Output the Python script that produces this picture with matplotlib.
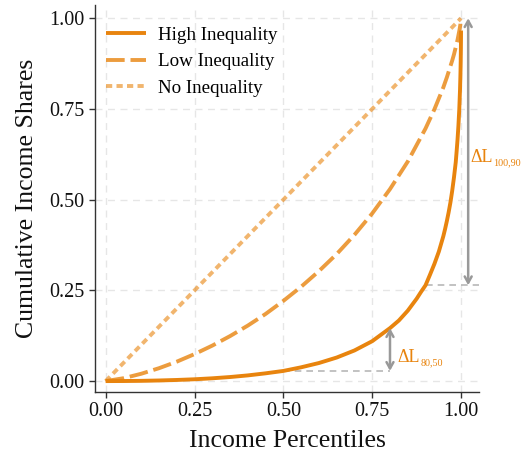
import matplotlib
matplotlib.use("Agg")
import matplotlib.pyplot as plt
from matplotlib.transforms import offset_copy

plt.rcParams["font.family"] = ["Liberation Serif", "DejaVu Serif"]

# Lorenz curves: income percentile -> cumulative income share
pct_high = [0.0, 0.05, 0.10, 0.15, 0.20, 0.25, 0.30, 0.35, 0.40, 0.45, 0.50,
            0.55, 0.60, 0.65, 0.70, 0.75, 0.80, 0.825, 0.85, 0.875, 0.8875,
            0.90, 0.9125, 0.925, 0.9375, 0.95, 0.955, 0.96, 0.965, 0.97,
            0.975, 0.98, 0.985, 0.9875, 0.99, 0.9925, 0.995, 0.997, 0.998,
            0.9985, 0.999, 0.9995, 0.9998, 0.9999]
share_high = [0.0, 0.0002, 0.0007, 0.0017, 0.0031, 0.0050, 0.0077, 0.0112,
              0.0157, 0.0214, 0.0280, 0.0380, 0.0498, 0.0649, 0.0844, 0.110,
              0.146, 0.167, 0.194, 0.227, 0.246, 0.264, 0.293, 0.323, 0.357,
              0.399, 0.419, 0.441, 0.465, 0.492, 0.524, 0.561, 0.603, 0.633,
              0.665, 0.703, 0.750, 0.802, 0.836, 0.857, 0.883, 0.918, 0.950,
              0.966]

pct_low = [0.0, 0.05, 0.10, 0.15, 0.20, 0.25, 0.30, 0.35, 0.40, 0.45, 0.50,
           0.55, 0.60, 0.65, 0.70, 0.75, 0.80, 0.85, 0.90, 0.925, 0.95,
           0.96, 0.975, 0.98, 0.99, 0.995, 0.9975, 0.999, 0.9999]
share_low = [0.0, 0.0079, 0.0202, 0.0355, 0.0535, 0.0744, 0.0978, 0.124,
             0.153, 0.185, 0.221, 0.260, 0.303, 0.350, 0.403, 0.462, 0.529,
             0.605, 0.696, 0.749, 0.809, 0.837, 0.883, 0.900, 0.940, 0.965,
             0.979, 0.990, 0.998]

pct_equal = [0.0, 1.0]
share_equal = [0.0, 1.0]

series_labels = ["High Inequality", "Low Inequality", "No Inequality"]

# Gap annotations (x position, lower share, upper share)
gap_80_50 = (0.80, 0.028, 0.146)
gap_100_90 = (1.02, 0.264, 1.00)

x_ticks = [0.0, 0.25, 0.5, 0.75, 1.0]
y_ticks = [0.0, 0.25, 0.5, 0.75, 1.0]
tick_labels = ["0.00", "0.25", "0.50", "0.75", "1.00"]

orange = "#E8840E"
grey = "#999999"

fig = plt.figure(figsize=(5.22, 4.53), dpi=100)
ax = fig.add_axes([0.182, 0.1347, 0.736, 0.854])

lw = 2.8
ax.plot(pct_high, share_high, color=orange, lw=lw, solid_capstyle="butt",
        solid_joinstyle="round", label=series_labels[0], zorder=4)
ax.plot(pct_low, share_low, color=orange, alpha=0.8, lw=lw,
        dashes=(4.8, 1.5), dash_capstyle="butt", label=series_labels[1], zorder=3)
ax.plot(pct_equal, share_equal, color=orange, alpha=0.6, lw=lw,
        dashes=(1.6, 1.1), dash_capstyle="butt", label=series_labels[2], zorder=3)


def delta_label(x, y, sub):
    """Write ΔL with a small subscript right after it."""
    main = ax.text(x, y, "ΔL", color=orange, fontsize=13, ha="left",
                   va="baseline", clip_on=False)
    fig.canvas.draw()
    bb = main.get_window_extent()
    inv = ax.transData.inverted()
    x_end = inv.transform((bb.x1, bb.y0))[0]
    ax.text(x_end, y, sub, color=orange, fontsize=7.3, ha="left", va="baseline",
            clip_on=False,
            transform=offset_copy(ax.transData, fig=fig, x=0, y=-2.3, units="points"))


# 80/50 gap
x, lo, hi = gap_80_50
ax.plot([0.50, x], [lo, lo], color=grey, alpha=0.7, lw=1.2, ls=(0, (4, 3)), zorder=2)
ax.annotate("", xy=(x, hi), xytext=(x, lo),
            arrowprops=dict(arrowstyle="<->,head_length=0.45,head_width=0.25",
                            color=grey, lw=1.8, shrinkA=0, shrinkB=0), zorder=5)

# 100/90 gap
x, lo, hi = gap_100_90
ax.plot([0.90, 1.05], [lo, lo], color=grey, alpha=0.7, lw=1.2, ls=(0, (4, 3)), zorder=2)
ax.annotate("", xy=(x, hi), xytext=(x, lo),
            arrowprops=dict(arrowstyle="<->,head_length=0.45,head_width=0.25",
                            color=grey, lw=1.8, shrinkA=0, shrinkB=0), zorder=5)

ax.set_xlim(-0.03, 1.051)
ax.set_ylim(-0.03, 1.036)
ax.set_xticks(x_ticks)
ax.set_xticklabels(tick_labels)
ax.set_yticks(y_ticks)
ax.set_yticklabels(tick_labels)
ax.tick_params(labelsize=14.5, colors="#333333", length=4, width=1,
               labelcolor="#111111")
ax.grid(True, color="#e6e6e6", lw=1.0, ls=(0, (5, 4)))
ax.set_axisbelow(True)
for side in ("top", "right"):
    ax.spines[side].set_visible(False)
for side in ("left", "bottom"):
    ax.spines[side].set_color("#333333")
    ax.spines[side].set_linewidth(1.0)

ax.set_xlabel("Income Percentiles", fontsize=18.5, color="#111111", labelpad=6)
ax.set_ylabel("Cumulative Income Shares", fontsize=18.5, color="#111111", labelpad=8)

leg = ax.legend(loc="upper left", bbox_to_anchor=(-0.005, 0.979), frameon=False,
                fontsize=13.7, handlelength=2.1, handletextpad=0.6,
                labelspacing=0.48, borderaxespad=0.3)

delta_label(gap_80_50[0] + 0.022, 0.052, "80,50")
delta_label(gap_100_90[0] + 0.006, 0.604, "100,90")

fig.savefig("out.png", dpi=100)
